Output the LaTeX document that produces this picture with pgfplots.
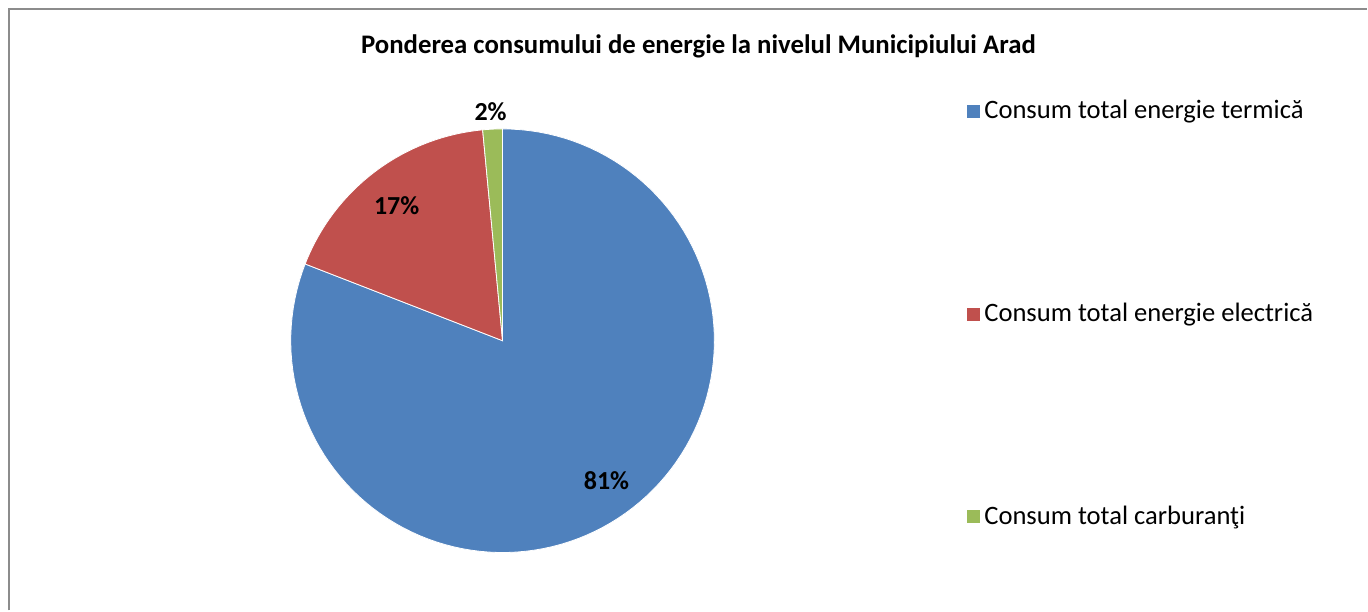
\documentclass[border=0pt]{standalone}
\usepackage{pgfplots}
\pgfplotsset{compat=1.18}
\usepackage{fontspec}
\setmainfont{Carlito}
\definecolor{cblue}{HTML}{4F81BD}
\definecolor{cred}{HTML}{C0504D}
\definecolor{cgreen}{HTML}{9BBB59}
\begin{document}
\begin{tikzpicture}
% shares in percent
\def\pa{80.9}\def\pb{17.6}\def\pc{1.5}
\begin{axis}[
  scale only axis, width=684pt, height=305.5pt,
  xmin=0, xmax=1368, ymin=0, ymax=611, y dir=reverse,
  hide axis, clip=false,
  legend style={at={(axis cs:966,98)}, anchor=north west, draw=none, fill=none,
    font=\fontsize{13.3}{15}\selectfont, row sep=88.8pt, inner sep=0pt,
    legend cell align=left,
    nodes={inner xsep=2pt, inner ysep=1pt}},
  legend image code/.code={\fill[#1] (-1.5pt,-3.5pt) rectangle (5.5pt,3.5pt);},
]
\path (axis cs:0,0) rectangle (axis cs:1368,611);
\draw[color=black!45, line width=1.2pt] (axis cs:9,611) |- (axis cs:1368,9);
\addplot[fill=cblue, draw=white, line width=0.4pt, domain={90-3.6*\pa}:90, samples=120]
  ({503+212*cos(x)},{341-212*sin(x)}) -- (axis cs:503,341) -- cycle;
\addlegendentry{Consum total energie termică}
\addplot[fill=cred, draw=white, line width=0.4pt, domain={90-3.6*(\pa+\pb)}:{90-3.6*\pa}, samples=40]
  ({503+212*cos(x)},{341-212*sin(x)}) -- (axis cs:503,341) -- cycle;
\addlegendentry{Consum total energie electrică}
\addplot[fill=cgreen, draw=white, line width=0.4pt, domain={90-3.6*(\pa+\pb+\pc)}:{90-3.6*(\pa+\pb)}, samples=10]
  ({503+212*cos(x)},{341-212*sin(x)}) -- (axis cs:503,341) -- cycle;
\addlegendentry{Consum total carburanţi}
\node[font=\bfseries\fontsize{13.4}{15}\selectfont] at (axis cs:699,46) {Ponderea consumului de energie la nivelul Municipiului Arad};
\node[font=\bfseries\fontsize{13}{15}\selectfont] at (axis cs:491,112) {2\%};
\node[font=\bfseries\fontsize{13}{15}\selectfont] at (axis cs:397,206) {17\%};
\node[font=\bfseries\fontsize{13}{15}\selectfont] at (axis cs:607,481) {81\%};
\end{axis}
\end{tikzpicture}
\end{document}
